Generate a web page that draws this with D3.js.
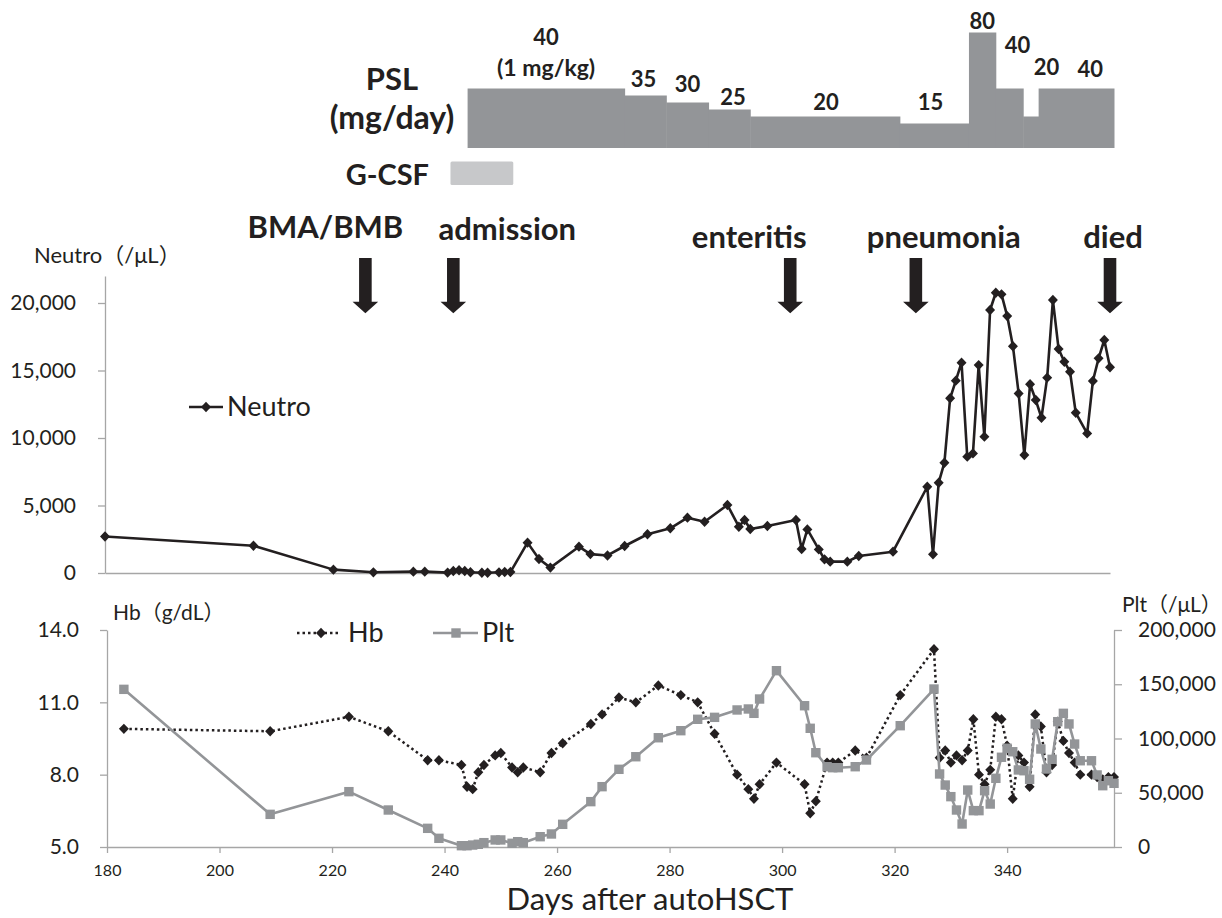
<!DOCTYPE html>
<html><head><meta charset="utf-8">
<script src="https://cdn.jsdelivr.net/npm/d3@7/dist/d3.min.js"></script>
<style>
body{margin:0;background:#fff}
svg{display:block}
text{font-family:Lato,"Noto Sans CJK JP",sans-serif;fill:#231f20}
</style>
</head><body>
<svg id="c" width="1222" height="918"></svg>
<script>
// ---------- data ----------
const days = [183,209,223,230,237,239,243,244,245,246,247,249,250,252,253,254,257,259,261,266,268,271,274,278,282,285,288,292,294,295,296,299,304,305,306,308,309,310,313,315,321,327,328,329,330,331,332,333,334,335,336,337,338,339,340,341,342,343,344,345,346,347,348,349,350,351,352,353,355,356,357,358,359];
const neutro = [2700,2020,250,50,100,100,30,150,200,150,60,20,20,50,70,70,2250,1040,400,1950,1400,1300,2000,2870,3310,4100,3800,5040,3430,3930,3260,3480,3930,1780,3230,1750,1010,840,840,1260,1580,6390,1380,6690,8170,12940,14250,15580,8620,8860,15400,10100,19480,20760,20640,19030,16800,13300,8740,13980,12810,11500,14470,20220,16590,15650,14910,11870,10340,14220,15900,17260,15240];
const hb = [9.9,9.8,10.4,9.8,8.6,8.6,8.4,7.5,7.4,8.1,8.4,8.8,8.9,8.3,8.1,8.3,8.1,8.9,9.3,10.1,10.5,11.2,11.0,11.7,11.3,11.0,9.7,8.0,7.4,7.0,7.6,8.5,7.6,6.4,6.9,8.5,8.5,8.5,9.0,8.7,11.3,13.2,8.7,9.0,8.5,8.8,8.6,9.0,10.3,8.0,7.6,8.2,10.4,10.3,9.2,7.0,8.8,8.5,7.5,10.5,10.0,8.1,8.4,10.2,9.4,8.9,8.5,8.0,8.0,7.9,7.8,7.9,7.9];
const plt = [145300,30100,51000,34100,17200,8000,1200,1200,1800,2500,4000,6500,6500,3400,4900,4000,9500,12000,20900,41800,55600,71600,83200,100700,107200,117700,119500,126300,127200,123200,136400,162500,130200,109400,86900,74000,73100,73100,74000,80200,111800,145600,67300,57100,46400,34100,21200,52500,33500,33500,51900,39600,63300,82700,91000,87800,71000,70300,62400,113400,90300,71900,80800,115500,123200,113400,94900,79500,79500,66400,56500,61100,58700];

const neutroTicks = [0,5000,10000,15000,20000];
const hbTicks = [5,8,11,14];
const pltTicks = [0,50000,100000,150000,200000];
const dayTicks = [180,200,220,240,260,280,300,320,340];

const pslStart = [246.5,274,281.3,288.7,296,322.2,334.3,339,343.8,346.5];
const pslEnd   = [274,281.3,288.7,296,322.2,334.3,339,343.8,346.5,359.7];
const pslDose  = [40,35,30,25,20,15,80,40,20,40];
const gcsfStart = [243.5];
const gcsfEnd   = [254.5];

const eventDays  = [228.6,244,303,325,359];
const eventNames = ["BMA/BMB","admission","enteritis","pneumonia","died"];

// ---------- layout (not data) ----------
const pslLabelDx = [0,-2,0,3.5,1,-4,0,8,15.7,14];
const pslLabelDy = [-43.5,-9,-11,-4.5,-6.5,-13.5,-3.5,-35.5,-41.5,-12];
const eventLabelDx = [-40,54,-41,28,3];
const eventLabelY  = [238,240,248,248,248];

const ink = "#231f20", axisGray = "#a6a6a6", barGray = "#939598";

const svg = d3.select("#c");

// ---------- scales ----------
const xN = d3.scaleLinear().domain([183,359]).range([105,1110]);
const xL = d3.scaleLinear().domain([180,359]).range([107,1114]);
const yN = d3.scaleLinear().domain([0,22000]).range([573,276]);
const yHb = d3.scaleLinear().domain([5,14]).range([847,630]);
const yPlt = d3.scaleLinear().domain([0,200000]).range([847,630]);
const yPSL = d3.scaleLinear().domain([0,80]).range([144.5,32.5]);
const pslBase = 148;

function styleAxis(g, fs){
  g.select(".domain").attr("stroke",axisGray).attr("stroke-width",1.3);
  g.selectAll(".tick line").attr("stroke",axisGray).attr("stroke-width",1.3);
  g.selectAll(".tick text").attr("fill",ink).style("font-size",fs+"px").style("font-family","Lato");
}

// ---------- PSL bars ----------
const psl = pslDose.map((d,i)=>({d,s:pslStart[i],e:pslEnd[i],i}));
svg.append("g").selectAll("rect").data(psl).join("rect")
  .attr("x",p=>xN(p.s)).attr("width",p=>xN(p.e)-xN(p.s)+0.5)
  .attr("y",p=>yPSL(p.d)).attr("height",p=>pslBase-yPSL(p.d))
  .attr("fill",barGray);
svg.append("g").selectAll("text").data(psl).join("text")
  .attr("x",p=>(xN(p.s)+xN(p.e))/2+pslLabelDx[p.i])
  .attr("y",p=>yPSL(p.d)+pslLabelDy[p.i])
  .attr("text-anchor","middle").style("font-size","22px").style("font-weight","bold")
  .text(p=>String(p.d));
svg.append("text").attr("x",(xN(pslStart[0])+xN(pslEnd[0]))/2).attr("y",yPSL(pslDose[0])-12.5)
  .attr("text-anchor","middle").style("font-size","23px").style("font-weight","bold").text("(1 mg/kg)");

// G-CSF
svg.append("g").selectAll("rect").data(gcsfStart).join("rect")
  .attr("x",(d,i)=>xN(d)).attr("width",(d,i)=>xN(gcsfEnd[i])-xN(d))
  .attr("y",161.5).attr("height",23.5).attr("rx",1.5).attr("fill","#c7c8ca");

svg.append("text").attr("x",392).attr("y",90).attr("text-anchor","middle")
  .style("font-size","31px").style("font-weight","bold").text("PSL");
svg.append("text").attr("x",392).attr("y",129).attr("text-anchor","middle")
  .style("font-size","32px").style("font-weight","bold").text("(mg/day)");
svg.append("text").attr("x",429).attr("y",185).attr("text-anchor","end")
  .style("font-size","29px").style("font-weight","bold").text("G-CSF");

// ---------- events ----------
const arrowShape = "M-6.3,258L6.3,258L6.3,301.7L12.8,301.7L0,313.3L-12.8,301.7L-6.3,301.7Z";
svg.append("g").selectAll("path").data(eventDays).join("path")
  .attr("d",arrowShape).attr("transform",d=>`translate(${xN(d)},0)`).attr("fill",ink);
svg.append("g").selectAll("text").data(eventNames).join("text")
  .attr("x",(n,i)=>xN(eventDays[i])+eventLabelDx[i]).attr("y",(n,i)=>eventLabelY[i])
  .attr("text-anchor","middle").style("font-size","31px").style("font-weight","bold")
  .text(n=>n);

// ---------- Neutro chart ----------
const gNy = svg.append("g").attr("transform","translate(105,0)")
  .call(d3.axisLeft(yN).tickValues(neutroTicks).tickSize(7).tickSizeOuter(0).tickPadding(22).tickFormat(d3.format(",")));
styleAxis(gNy,21);
const gNx = svg.append("g").attr("transform","translate(0,573)")
  .call(d3.axisBottom(xN).tickValues([]).tickSizeOuter(0));
styleAxis(gNx,15);

const diamond = "M0,-5.2L5,0L0,5.2L-5,0Z";
const nPts = days.map((d,i)=>[d,neutro[i]]);
svg.append("path").datum(nPts)
  .attr("d",d3.line().x(p=>xN(p[0])).y(p=>yN(p[1])))
  .attr("fill","none").attr("stroke",ink).attr("stroke-width",2.6).attr("stroke-linejoin","round");
svg.append("g").selectAll("path").data(nPts).join("path")
  .attr("d",diamond).attr("transform",p=>`translate(${xN(p[0])},${yN(p[1])})`).attr("fill",ink);

svg.append("text").attr("x",34).attr("y",263).style("font-size","22px").text("Neutro（/μL）");
// legend
svg.append("line").attr("x1",189).attr("x2",223).attr("y1",407).attr("y2",407).attr("stroke",ink).attr("stroke-width",2.6);
svg.append("path").attr("d",diamond).attr("transform","translate(206,407)").attr("fill",ink);
svg.append("text").attr("x",227).attr("y",416).style("font-size","27px").text("Neutro");

// ---------- Hb / Plt chart ----------
const gHy = svg.append("g").attr("transform","translate(107,0)")
  .call(d3.axisLeft(yHb).tickValues(hbTicks).tickSize(7).tickSizeOuter(0).tickPadding(21).tickFormat(d3.format(".1f")));
styleAxis(gHy,21);
const gPy = svg.append("g").attr("transform","translate(1114,0)")
  .call(d3.axisRight(yPlt).tickValues(pltTicks).tickSize(8).tickSizeOuter(0).tickPadding(16).tickFormat(d3.format(",")));
styleAxis(gPy,21);
const gLx = svg.append("g").attr("transform","translate(0,847)")
  .call(d3.axisBottom(xL).tickValues(dayTicks).tickSize(6).tickSizeOuter(0).tickPadding(12));
styleAxis(gLx,16);

const hPts = days.map((d,i)=>[d,hb[i]]);
const pPts = days.map((d,i)=>[d,plt[i]]);
svg.append("path").datum(hPts)
  .attr("d",d3.line().x(p=>xL(p[0])).y(p=>yHb(p[1])))
  .attr("fill","none").attr("stroke",ink).attr("stroke-width",2.5).attr("stroke-dasharray","2.5 3");
svg.append("g").selectAll("path").data(hPts).join("path")
  .attr("d",diamond).attr("transform",p=>`translate(${xL(p[0])},${yHb(p[1])})`).attr("fill",ink);
svg.append("path").datum(pPts)
  .attr("d",d3.line().x(p=>xL(p[0])).y(p=>yPlt(p[1])))
  .attr("fill","none").attr("stroke",barGray).attr("stroke-width",2.6).attr("stroke-linejoin","round");
svg.append("g").selectAll("rect").data(pPts).join("rect")
  .attr("x",p=>xL(p[0])-4.7).attr("y",p=>yPlt(p[1])-4.7).attr("width",9.4).attr("height",9.4).attr("fill",barGray);

svg.append("text").attr("x",113).attr("y",620).style("font-size","21px").text("Hb（g/dL）");
svg.append("text").attr("x",1122).attr("y",612).style("font-size","21px").text("Plt（/μL）");

// legend
svg.append("line").attr("x1",297).attr("x2",341).attr("y1",633).attr("y2",633).attr("stroke",ink).attr("stroke-width",2.5).attr("stroke-dasharray","2.5 3");
svg.append("path").attr("d",diamond).attr("transform","translate(321,633)").attr("fill",ink);
svg.append("text").attr("x",348).attr("y",642).style("font-size","27px").text("Hb");
svg.append("line").attr("x1",433).attr("x2",478).attr("y1",633).attr("y2",633).attr("stroke",barGray).attr("stroke-width",2.6);
svg.append("rect").attr("x",456-4.7).attr("y",633-4.7).attr("width",9.4).attr("height",9.4).attr("fill",barGray);
svg.append("text").attr("x",482).attr("y",642).style("font-size","27px").text("Plt");

svg.append("text").attr("x",650).attr("y",910).attr("text-anchor","middle").style("font-size","31px").text("Days after autoHSCT");
</script>
</body></html>
